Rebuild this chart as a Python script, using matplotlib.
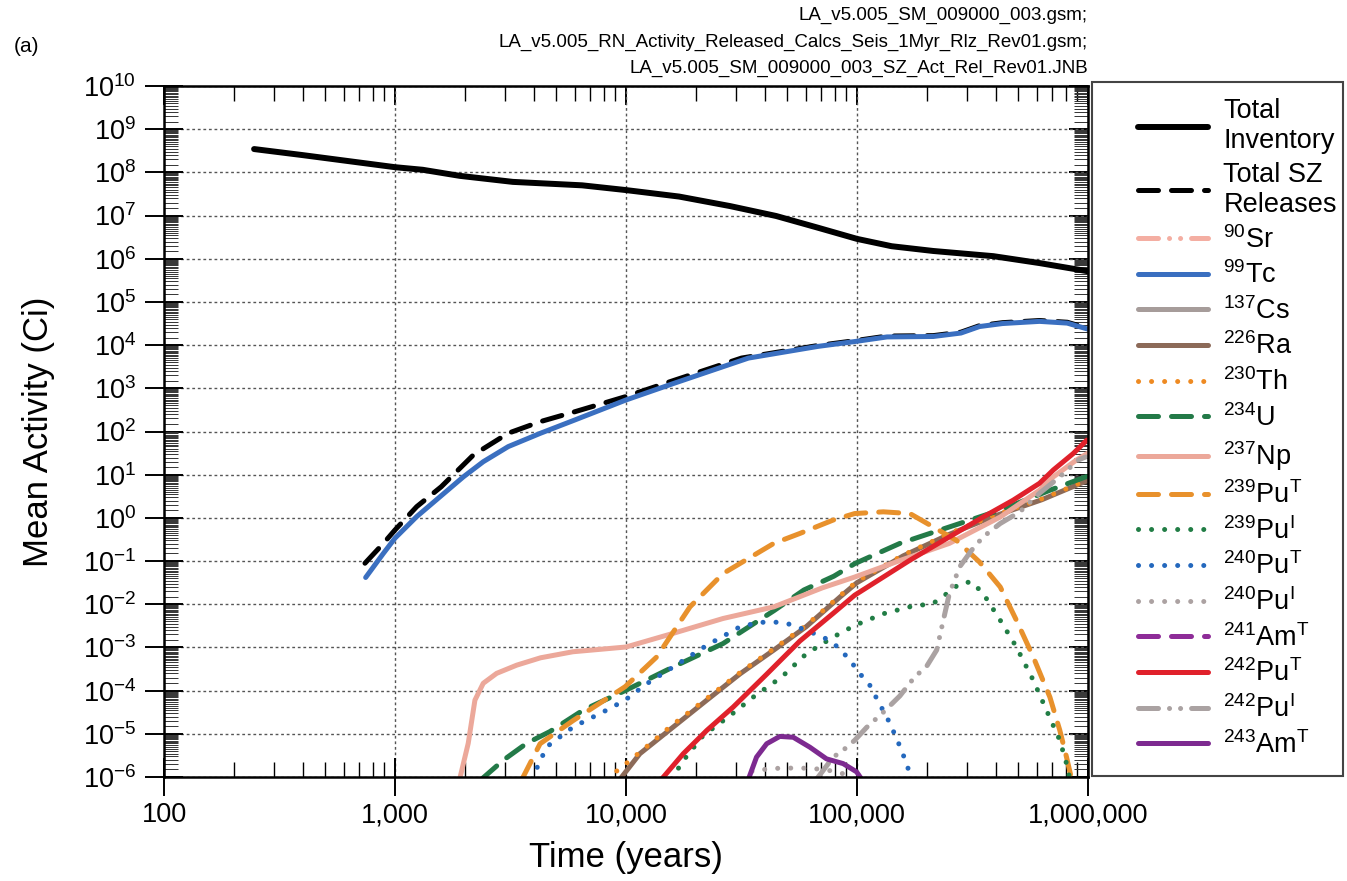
import numpy as np
import matplotlib
matplotlib.use('Agg')
import matplotlib.pyplot as plt
from matplotlib.patches import Rectangle
from matplotlib.ticker import LogLocator, FuncFormatter, NullFormatter

plt.rcParams['font.family'] = ['Liberation Sans', 'DejaVu Sans']
plt.rcParams['mathtext.fontset'] = 'custom'
plt.rcParams['mathtext.rm'] = 'Liberation Sans'
plt.rcParams['mathtext.it'] = 'Liberation Sans:italic'
plt.rcParams['mathtext.bf'] = 'Liberation Sans:bold'

# values, as log10(years) and log10(Ci)
inv_t = [2.39, 2.6, 2.8, 3.0, 3.12, 3.28, 3.51, 3.81, 4.0, 4.23, 4.45, 4.65, 4.83, 5.0, 5.15, 5.33, 5.59, 5.79, 6.0]
inv_a = [8.54, 8.40, 8.26, 8.12, 8.06, 7.92, 7.78, 7.70, 7.59, 7.44, 7.22, 6.99, 6.72, 6.46, 6.29, 6.18, 6.06, 5.90, 5.71]

sz_t = [2.87, 2.95, 3.0, 3.094, 3.2, 3.34, 3.49, 3.63, 3.78, 4.0, 4.2, 4.5, 4.83, 5.0, 5.13, 5.33, 5.45, 5.53, 5.63, 5.79, 5.91, 6.0]
sz_a = [-1.05, -0.59, -0.28, 0.26, 0.72, 1.46, 1.96, 2.23, 2.46, 2.81, 3.17, 3.70, 3.99, 4.11, 4.21, 4.22, 4.30, 4.45, 4.52, 4.57, 4.53, 4.39]

tc_t = [2.873, 2.95, 3.0, 3.094, 3.195, 3.296, 3.382, 3.49, 3.63, 3.78, 4.0, 4.21, 4.53, 4.83, 5.0, 5.13, 5.33, 5.45, 5.53, 5.63, 5.79, 5.91, 6.0]
tc_a = [-1.38, -0.82, -0.47, 0.03, 0.49, 0.95, 1.30, 1.65, 1.96, 2.27, 2.73, 3.12, 3.70, 3.97, 4.09, 4.19, 4.20, 4.28, 4.43, 4.50, 4.55, 4.51, 4.37]

ra_t = [3.974, 4.06, 4.205, 4.35, 4.494, 4.64, 4.78, 4.927, 5.0, 5.2, 5.4, 5.6, 5.8, 6.0]
ra_a = [-6.05, -5.46, -4.84, -4.22, -3.61, -3.06, -2.52, -1.83, -1.50, -0.88, -0.38, 0.05, 0.42, 0.87]

th_t = [3.916, 4.0, 4.1, 4.19, 4.35, 4.494, 4.64, 4.78, 4.927, 5.0, 5.2, 5.4, 5.6, 5.8, 6.0]
th_a = [-6.05, -5.69, -5.25, -4.84, -4.18, -3.58, -3.03, -2.49, -1.80, -1.47, -0.86, -0.36, 0.07, 0.44, 0.88]

u_t = [3.375, 3.469, 3.57, 3.67, 3.815, 4.0, 4.205, 4.42, 4.64, 4.77, 4.90, 4.99, 5.186, 5.40, 5.62, 5.835, 6.0]
u_a = [-6.05, -5.61, -5.22, -4.95, -4.45, -3.99, -3.45, -2.91, -2.15, -1.67, -1.35, -1.06, -0.59, -0.21, 0.18, 0.64, 0.97]

np_t = [3.28, 3.30, 3.317, 3.346, 3.382, 3.44, 3.527, 3.63, 3.77, 4.0, 4.2, 4.42, 4.64, 4.85, 4.99, 5.19, 5.40, 5.62, 5.79, 5.85, 5.95, 6.0]
np_a = [-6.05, -5.6, -5.22, -4.22, -3.83, -3.60, -3.41, -3.24, -3.10, -2.99, -2.68, -2.33, -2.06, -1.62, -1.37, -0.98, -0.59, 0.02, 0.64, 0.95, 1.34, 1.50]

pu239t_t = [3.55, 3.628, 3.772, 3.996, 4.133, 4.277, 4.42, 4.64, 4.753, 4.897, 4.99, 5.114, 5.229, 5.33, 5.43, 5.53, 5.62, 5.69, 5.763, 5.835, 5.878, 5.907, 5.929]
pu239t_a = [-6.05, -5.23, -4.69, -3.91, -3.22, -2.06, -1.29, -0.59, -0.36, -0.05, 0.10, 0.14, 0.10, -0.21, -0.52, -1.02, -1.60, -2.37, -3.22, -4.15, -4.92, -5.54, -6.05]

pu239i_t = [4.197, 4.248, 4.334, 4.45, 4.558, 4.673, 4.78, 4.897, 4.99, 5.114, 5.229, 5.33, 5.39, 5.445, 5.496, 5.546, 5.62, 5.69, 5.763, 5.82, 5.878, 5.915, 5.92]
pu239i_a = [-6.05, -5.62, -5.04, -4.58, -4.12, -3.69, -3.15, -2.76, -2.49, -2.22, -2.06, -1.98, -1.75, -1.52, -1.48, -1.75, -2.37, -2.99, -3.76, -4.45, -5.15, -5.84, -6.05]

pu240t_t = [3.592, 3.657, 3.772, 3.917, 3.996, 4.09, 4.205, 4.35, 4.494, 4.58, 4.64, 4.70, 4.78, 4.86, 4.92, 4.97, 5.013, 5.056, 5.085, 5.143, 5.193, 5.229, 5.236]
pu240t_a = [-6.05, -5.30, -4.84, -4.45, -4.22, -3.84, -3.45, -2.95, -2.52, -2.42, -2.41, -2.45, -2.60, -2.78, -3.0, -3.30, -3.61, -3.88, -4.18, -4.76, -5.38, -5.92, -6.05]

pu240i_t = [4.50, 4.55, 4.65, 4.75, 4.85, 4.93, 4.98]
pu240i_a = [-6.05, -5.85, -5.80, -5.79, -5.82, -5.90, -6.05]

pu242t_t = [4.154, 4.248, 4.35, 4.464, 4.609, 4.753, 4.897, 4.99, 5.114, 5.229, 5.40, 5.546, 5.676, 5.79, 5.85, 5.936, 5.995]
pu242t_a = [-6.05, -5.46, -4.92, -4.38, -3.62, -2.85, -2.21, -1.79, -1.37, -0.98, -0.44, 0.02, 0.41, 0.80, 1.11, 1.49, 1.80]

pu242i_t = [4.825, 4.897, 4.94, 4.99, 5.042, 5.114, 5.186, 5.25, 5.30, 5.345, 5.38, 5.40, 5.445, 5.496, 5.546, 5.62, 5.705, 5.79, 5.878, 5.958, 5.99]
pu242i_a = [-6.05, -5.54, -5.38, -5.15, -4.85, -4.50, -4.12, -3.68, -3.45, -3.06, -2.22, -1.75, -1.13, -0.75, -0.44, -0.13, 0.14, 0.57, 0.95, 1.34, 1.41]

am243t_t = [4.53, 4.565, 4.609, 4.666, 4.724, 4.796, 4.868, 4.94, 4.998, 5.02]
am243t_a = [-6.05, -5.54, -5.23, -5.06, -5.08, -5.31, -5.58, -5.69, -5.88, -6.05]

# 90Sr, 137Cs and 241Am-T stay below 1e-6 over the whole plot
empty = []

dot = (0, (0.01, 2.6))
dash = (0, (4, 2.6))
dash_dd = (0, (4, 2.2, 0.01, 2.2, 0.01, 2.2))

series = [
    (inv_t, inv_a, 'Total\nInventory', 'black', '-', 4.3),
    (sz_t, sz_a, 'Total SZ\nReleases', 'black', dash, 3.6),
    (empty, empty, r'$^{90}$Sr', '#f4aea2', dash_dd, 3.6),
    (tc_t, tc_a, r'$^{99}$Tc', '#3a6fc0', '-', 3.6),
    (empty, empty, r'$^{137}$Cs', '#a69c9a', '-', 3.6),
    (ra_t, ra_a, r'$^{226}$Ra', '#8c6a58', '-', 3.6),
    (th_t, th_a, r'$^{230}$Th', '#ee8a22', dot, 3.6),
    (u_t, u_a, r'$^{234}$U', '#237a48', dash, 3.6),
    (np_t, np_a, r'$^{237}$Np', '#eca89a', '-', 3.6),
    (pu239t_t, pu239t_a, r'$^{239}$Pu$^{\mathrm{T}}$', '#e8912c', dash, 3.6),
    (pu239i_t, pu239i_a, r'$^{239}$Pu$^{\mathrm{I}}$', '#217d45', dot, 3.6),
    (pu240t_t, pu240t_a, r'$^{240}$Pu$^{\mathrm{T}}$', '#2468bd', dot, 3.6),
    (pu240i_t, pu240i_a, r'$^{240}$Pu$^{\mathrm{I}}$', '#aca2a2', dot, 3.6),
    (empty, empty, r'$^{241}$Am$^{\mathrm{T}}$', '#8e2c98', dash, 3.6),
    (pu242t_t, pu242t_a, r'$^{242}$Pu$^{\mathrm{T}}$', '#e0212b', '-', 3.6),
    (pu242i_t, pu242i_a, r'$^{242}$Pu$^{\mathrm{I}}$', '#aaa2a2', dash_dd, 3.6),
    (am243t_t, am243t_a, r'$^{243}$Am$^{\mathrm{T}}$', '#7d2a90', '-', 3.6),
]

fig = plt.figure(figsize=(13.47, 8.81), dpi=100)
ax = fig.add_axes([164 / 1347, 1 - 777 / 881, 924 / 1347, 691 / 881])

handles = []
for t, a, lab, col, ls, lw in series:
    x = np.power(10.0, np.array(t, dtype=float))
    y = np.power(10.0, np.array(a, dtype=float))
    ln, = ax.plot(x, y, color=col, linestyle=ls, linewidth=lw, label=lab,
                  dash_capstyle='round', solid_capstyle='round')
    handles.append(ln)

ax.set_xscale('log')
ax.set_yscale('log')
ax.set_xlim(100, 1e6)
ax.set_ylim(1e-6, 1e10)

ax.set_xticks([100, 1000, 10000, 100000, 1000000])
ax.xaxis.set_major_formatter(FuncFormatter(lambda v, p: f'{v:,.0f}'))
ax.xaxis.set_minor_locator(LogLocator(base=10, subs=np.arange(2, 10), numticks=50))
ax.xaxis.set_minor_formatter(NullFormatter())
ax.set_yticks(10.0 ** np.arange(-6, 11))
ax.yaxis.set_minor_locator(LogLocator(base=10, subs=np.arange(1.5, 10, 0.5), numticks=200))
ax.yaxis.set_minor_formatter(NullFormatter())

ax.tick_params(which='major', direction='inout', length=28, width=1.4, labelsize=19.5)
ax.tick_params(axis='y', which='major', pad=6)
ax.tick_params(axis='x', which='major', pad=4)
ax.tick_params(which='minor', direction='in', length=10, width=0.7, color='#333333', top=True, right=True)
ax.tick_params(axis='x', which='minor', length=11, width=1.0, color='black')
for s in ax.spines.values():
    s.set_linewidth(1.8)

# inward major ticks on top and right
sx = ax.secondary_xaxis('top')
sx.set_xticks([100, 1000, 10000, 100000, 1000000])
sx.tick_params(which='major', direction='in', length=14, width=1.4)
sx.tick_params(which='minor', length=0)
sx.xaxis.set_major_formatter(NullFormatter())
sx.xaxis.set_minor_formatter(NullFormatter())
sy = ax.secondary_yaxis('right')
sy.set_yticks(10.0 ** np.arange(-6, 11))
sy.tick_params(which='major', direction='in', length=14, width=1.4)
sy.tick_params(which='minor', length=0)
sy.yaxis.set_major_formatter(NullFormatter())
sy.yaxis.set_minor_formatter(NullFormatter())

ax.grid(True, which='major', linestyle=(0, (2, 2)), color='#555555', linewidth=1.0)

ax.set_xlabel('Time (years)', fontsize=25)
ax.xaxis.set_label_coords(0.5, -0.093)
ax.set_ylabel('Mean Activity (Ci)', fontsize=25)
ax.yaxis.set_label_coords(-0.118, 0.5)

# legend box drawn separately so the side padding can be wider than the top padding
fig.patches.append(Rectangle((1092 / 1347, 1 - 776 / 881), 251 / 1347, 694 / 881,
                             transform=fig.transFigure, fill=False, edgecolor='#444444', linewidth=1.5))
leg = fig.legend(handles=handles, loc='upper left', bbox_to_anchor=(1138 / 1347, 1 - 98 / 881),
                 fontsize=19.5, handlelength=2.6, handletextpad=0.55, labelspacing=0.29,
                 borderpad=0, borderaxespad=0, frameon=False)
for txt in leg.get_texts():
    txt.set_linespacing(1.2)

fig.text(1088 / 1347, 1 - 15 / 881, 'LA_v5.005_SM_009000_003.gsm;', ha='right', va='center', fontsize=13.5)
fig.text(1088 / 1347, 1 - 42 / 881, 'LA_v5.005_RN_Activity_Released_Calcs_Seis_1Myr_Rlz_Rev01.gsm;',
         ha='right', va='center', fontsize=13.5)
fig.text(1088 / 1347, 1 - 68 / 881, 'LA_v5.005_SM_009000_003_SZ_Act_Rel_Rev01.JNB', ha='right', va='center', fontsize=13.5)
fig.text(14 / 1347, 1 - 47 / 881, '(a)', ha='left', va='center', fontsize=15)

fig.savefig('out.png', dpi=100)
